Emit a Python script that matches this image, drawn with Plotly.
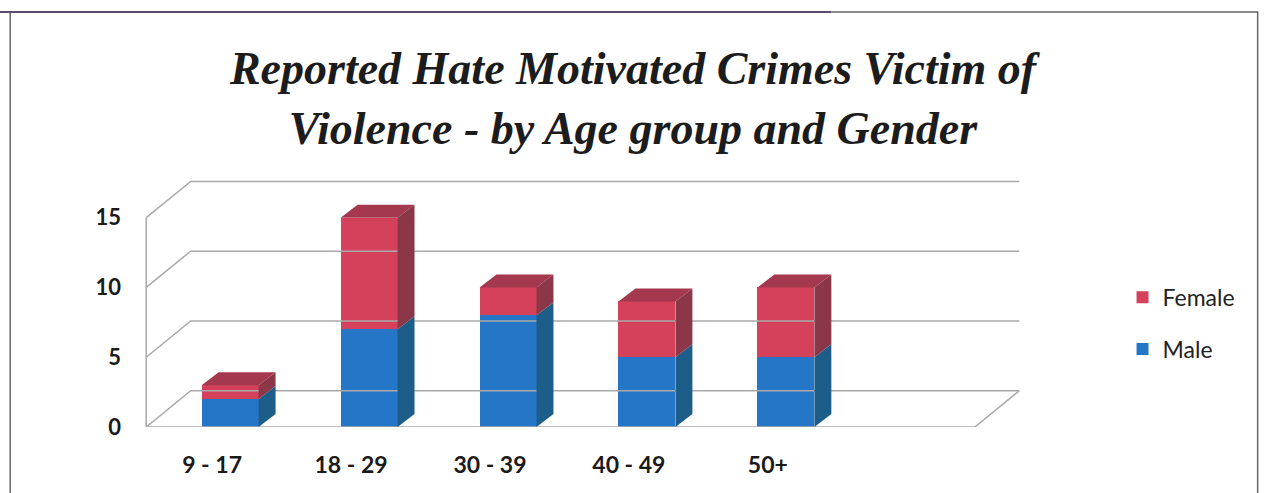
import plotly.graph_objects as go

categories = ["9 - 17", "18 - 29", "30 - 39", "40 - 49", "50+"]
male = [2, 7, 8, 5, 5]
female = [1, 8, 2, 4, 5]
y_ticks = [0, 5, 10, 15]

# styling / geometry (not data)
BAR_W = 0.41
DX, DY = 0.122, 0.93          # bar depth offset in axis units
WX, WY = 0.32, 2.6            # wall depth offset in axis units
X_LEFT, X_FLOOR_R, X_RIGHT = -0.604, 5.36, 5.8
F_FRONT, F_TOP, F_SIDE = "#d5415a", "#a3384f", "#8c3748"
M_FRONT, M_SIDE = "#2676c8", "#1c5d8a"
GRID = "#a9a9a9"

xpos = list(range(len(categories)))
fig = go.Figure()

# walls / floor lines
for v in y_ticks:
    fig.add_trace(go.Scatter(x=[X_LEFT, X_LEFT + WX, X_FLOOR_R + WX], y=[v, v + WY, v + WY],
                             mode="lines", line=dict(color=GRID, width=1.5),
                             showlegend=False, hoverinfo="skip"))
fig.add_trace(go.Scatter(x=[X_LEFT, X_FLOOR_R, X_FLOOR_R + WX], y=[0, 0, WY], mode="lines",
                         line=dict(color=GRID, width=1.5), showlegend=False, hoverinfo="skip"))
fig.add_trace(go.Scatter(x=[X_LEFT, X_LEFT], y=[0, max(y_ticks)], mode="lines",
                         line=dict(color=GRID, width=1.5), showlegend=False, hoverinfo="skip"))

# front faces
fig.add_trace(go.Bar(x=xpos, y=male, name="Male", marker=dict(color=M_FRONT, line=dict(width=0)),
                     width=BAR_W, legendgroup="m", legendrank=2))
fig.add_trace(go.Bar(x=xpos, y=female, base=male, name="Female",
                     marker=dict(color=F_FRONT, line=dict(width=0)),
                     width=BAR_W, legendgroup="f", legendrank=1))

# side and top faces
for i, (m, f) in enumerate(zip(male, female)):
    xl, xr = i - BAR_W / 2, i + BAR_W / 2
    t = m + f
    fig.add_trace(go.Scatter(x=[xr, xr + DX, xr + DX, xr, xr], y=[0, DY, m + DY, m, 0],
                             fill="toself", fillcolor=M_SIDE, mode="lines", line=dict(width=0, color=M_SIDE),
                             showlegend=False, hoverinfo="skip"))
    fig.add_trace(go.Scatter(x=[xr, xr + DX, xr + DX, xr, xr], y=[m, m + DY, t + DY, t, m],
                             fill="toself", fillcolor=F_SIDE, mode="lines", line=dict(width=0, color=F_SIDE),
                             showlegend=False, hoverinfo="skip"))
    fig.add_trace(go.Scatter(x=[xl, xl + DX, xr + DX, xr, xl], y=[t, t + DY, t + DY, t, t],
                             fill="toself", fillcolor=F_TOP, mode="lines", line=dict(width=0, color=F_TOP),
                             showlegend=False, hoverinfo="skip"))

fig.update_layout(
    width=1266, height=493,
    margin=dict(l=144, r=230, t=180, b=66),
    paper_bgcolor="white", plot_bgcolor="white",
    barmode="stack",
    title=dict(
        text="<b><i>Reported Hate Motivated Crimes Victim of<br>Violence - by Age group and Gender</i></b>",
        font=dict(family="Liberation Serif", size=46, color="#1c1c1c"),
        x=0.5, xanchor="center", xref="container",
        y=0.83, yanchor="top", yref="container"),
    xaxis=dict(range=[-0.62, X_RIGHT], tickvals=[x - 0.13 for x in xpos], ticktext=categories,
               showgrid=False, zeroline=False, showline=False, ticks="",
               ticklabelstandoff=22,
               tickfont=dict(family="Lato", size=23, color="#1a1a1a", weight="bold")),
    yaxis=dict(range=[0, 17.7], tickvals=y_ticks, showgrid=False, zeroline=False, showline=False,
               ticks="", ticklabelstandoff=22,
               tickfont=dict(family="Lato", size=22, color="#1a1a1a", weight="bold")),
    legend=dict(x=1.097, y=0.42, xanchor="left", yanchor="middle", traceorder="grouped",
                tracegroupgap=19, font=dict(family="Lato", size=23, color="#222"),
                itemsizing="constant"),
    shapes=[
        dict(type="rect", xref="paper", yref="paper", x0=-0.150, x1=1.2485, y0=-0.4, y1=1.680,
             line=dict(color="#666", width=1.5), layer="below"),
        dict(type="line", xref="paper", yref="paper", x0=-0.2, x1=0.77, y0=1.680, y1=1.680,
             line=dict(color="#5e4a6e", width=2)),
    ],
)

fig.write_html("out.html")
